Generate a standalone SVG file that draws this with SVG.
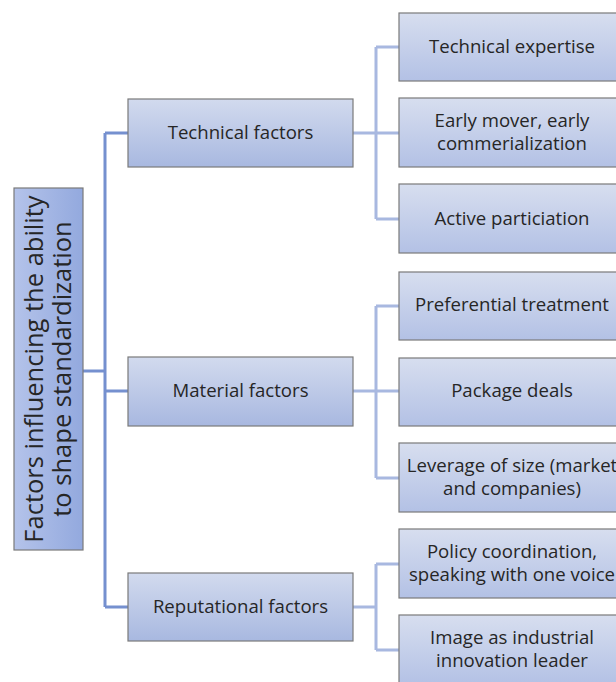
<svg xmlns="http://www.w3.org/2000/svg" width="616" height="682" viewBox="0 0 616 682">
<defs>
<linearGradient id="g1" x1="0" y1="0" x2="0" y2="1">
<stop offset="0" stop-color="#d2daee"/>
<stop offset="1" stop-color="#a8b8e0"/>
</linearGradient>
<linearGradient id="g2" x1="0" y1="0" x2="0" y2="1">
<stop offset="0" stop-color="#d7deef"/>
<stop offset="1" stop-color="#b3c1e5"/>
</linearGradient>
<linearGradient id="g0" x1="0" y1="0" x2="1" y2="0">
<stop offset="0" stop-color="#b4c3ea"/>
<stop offset="1" stop-color="#93a9de"/>
</linearGradient>
</defs>
<style>
.b1{fill:url(#g1);stroke:#7a7a7a;stroke-width:1.2}
.b2{fill:url(#g2);stroke:#7a7a7a;stroke-width:1.2}
.b0{fill:url(#g0);stroke:#7a7a7a;stroke-width:1.2}
.t{font-family:"Open Sans","Noto Sans",sans-serif;font-size:18.6px;fill:#262626;text-anchor:middle}
.t0{font-family:"Open Sans","Noto Sans",sans-serif;font-size:25.5px;fill:#262626;text-anchor:middle}
.c1{fill:none;stroke:#7590cf;stroke-width:3}
.c2{fill:none;stroke:#a8b8e0;stroke-width:3}
</style>
<g id="connectors">
<path class="c1" d="M83 371H105M105 133V607M105 133H128M105 391H128M105 607H128"/>
<path class="c2" d="M353 133H376M376 47V219M376 47H399M376 133H399M376 219H399"/>
<path class="c2" d="M353 391H376M376 306V478M376 306H399M376 391H399M376 478H399"/>
<path class="c2" d="M353 607H376M376 564V650M376 564H399M376 650H399"/>
</g>
<g id="root">
<rect class="b0" x="14" y="188" width="69" height="362"/>
<text class="t0" transform="translate(48 369) rotate(-90)"><tspan x="0" y="-5">Factors influencing the ability</tspan><tspan x="0" y="23">to shape standardization</tspan></text>
</g>
<g id="technical">
<rect class="b1" x="128" y="99" width="225" height="68"/>
<text class="t" x="240.5" y="139">Technical factors</text>
</g>
<g id="material">
<rect class="b1" x="128" y="357" width="225" height="69"/>
<text class="t" x="240.5" y="397">Material factors</text>
</g>
<g id="reputational">
<rect class="b1" x="128" y="573" width="225" height="68"/>
<text class="t" x="240.5" y="613">Reputational factors</text>
</g>
<g id="tech-expertise">
<rect class="b2" x="399" y="13" width="230" height="68"/>
<text class="t" x="512" y="53">Technical expertise</text>
</g>
<g id="early-mover">
<rect class="b2" x="399" y="98" width="230" height="69"/>
<text class="t" x="512" y="127">Early mover, early</text>
<text class="t" x="512" y="150">commerialization</text>
</g>
<g id="active">
<rect class="b2" x="399" y="184" width="230" height="69"/>
<text class="t" x="512" y="225">Active particiation</text>
</g>
<g id="preferential">
<rect class="b2" x="399" y="272" width="230" height="68"/>
<text class="t" x="512" y="311">Preferential treatment</text>
</g>
<g id="package">
<rect class="b2" x="399" y="358" width="230" height="68"/>
<text class="t" x="512" y="397">Package deals</text>
</g>
<g id="leverage">
<rect class="b2" x="399" y="443" width="230" height="69"/>
<text class="t" x="512" y="472">Leverage of size (market</text>
<text class="t" x="512" y="495">and companies)</text>
</g>
<g id="policy">
<rect class="b2" x="399" y="529" width="230" height="69"/>
<text class="t" x="512" y="558">Policy coordination,</text>
<text class="t" x="512" y="581">speaking with one voice</text>
</g>
<g id="image">
<rect class="b2" x="399" y="615" width="230" height="70"/>
<text class="t" x="512" y="644">Image as industrial</text>
<text class="t" x="512" y="667">innovation leader</text>
</g>
</svg>
